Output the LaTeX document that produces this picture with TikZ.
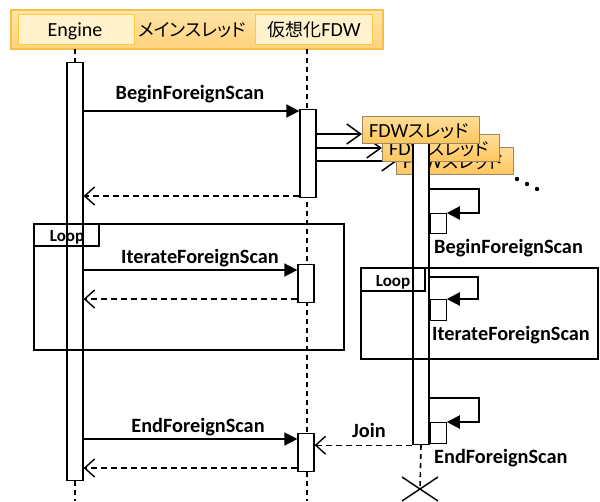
\documentclass[tikz,border=0pt]{standalone}
\usepackage{fontspec}
\setmainfont{Carlito}
\newfontfamily\jp[RawFeature=+palt]{Noto Sans CJK JP}
\usetikzlibrary{arrows.meta,calc}

\definecolor{bandtop}{HTML}{FFE4A6}
\definecolor{bandbot}{HTML}{FFD27E}
\definecolor{bandline}{HTML}{F4C048}
\definecolor{actfill}{HTML}{FFF2CC}
\definecolor{actline}{HTML}{FFC93A}
\definecolor{thrtop}{HTML}{FFDE98}
\definecolor{thrbot}{HTML}{FFC65E}
\definecolor{thrline}{HTML}{9A8660}

\tikzset{
  bar/.style={draw, fill=white, line width=1.2pt, minimum width=16pt,
    inner sep=0pt, anchor=north},
  nest/.style={draw, fill=white, line width=1.2pt, minimum width=16pt,
    inner sep=0pt, anchor=north west},
  lifeline/.style={line width=1.6pt, dash pattern=on 5pt off 4pt},
  call/.style={line width=1.5pt, -{Triangle[length=13pt,width=13pt]}},
  selfcall/.style={line width=2.2pt, -{Triangle[length=13pt,width=13pt]}},
  reply/.style={line width=1.4pt, dash pattern=on 6pt off 4pt,
    -{Straight Barb[length=10pt,width=18pt,line width=1.4pt]}},
  spawn/.style={line width=1.5pt,
    -{Straight Barb[length=14pt,width=20pt,line width=1.5pt]}},
  msg/.style={font=\fontsize{20.3}{22}\selectfont\bfseries, inner sep=0pt, anchor=base},
  msgw/.style={msg, anchor=base west},
  looplbl/.style={font=\fontsize{17}{18}\selectfont\bfseries, inner sep=0pt, anchor=base},
  hdr/.style={font=\fontsize{20}{22}\selectfont, inner sep=0pt, anchor=base},
  frame/.style={draw, line width=1.2pt},
  thread/.style={draw=thrline, line width=1.1pt, top color=thrtop, bottom color=thrbot,
    minimum width=117pt, minimum height=27pt, inner sep=0pt, anchor=north west},
}

\begin{document}
\begin{tikzpicture}[x=1pt, y=-1pt]
\useasboundingbox (0,0) rectangle (600,501);

% header band with the two participants
\shade[top color=bandtop, bottom color=bandbot, draw=bandline, line width=1.2pt]
  (11,10) rectangle (383,49);
\node (engine) [draw=actline, fill=actfill, line width=1.2pt, minimum width=116pt,
  minimum height=30pt, inner sep=0pt, anchor=north west] at (18,14) {};
\node (fdw) [draw=actline, fill=actfill, line width=1.2pt, minimum width=117pt,
  minimum height=30pt, inner sep=0pt, anchor=north west] at (255,14) {};
\node[hdr] at (75,36) {Engine};
\node[hdr, font=\fontsize{18}{22}\selectfont\jp] at (192,36) {メインスレッド};
\node[hdr] at (314,36) {{\jp\fontsize{18}{22}\selectfont 仮想化}FDW};

% lifelines
\coordinate (engtop) at (75,49);
\coordinate (engend) at (75,501);
\coordinate (fdwtop) at (307,49);
\coordinate (fdwend) at (307,501);
\draw[lifeline] (engtop) -- (engend);
\draw[lifeline] (fdwtop) -- (fdwend);

% activation bars of the main thread side
\node (engbar) [bar, minimum height=418pt] at (75,62) {};
\node (fb1) [bar, minimum height=88pt] at (308,109) {};
\node (fb2) [bar, minimum height=38pt] at (306,264) {};
\node (fb3) [bar, minimum height=38pt] at (306,433) {};

% BeginForeignScan
\draw[call] (engbar.east |- 0,111) -- (fb1.west |- 0,111);
\node[msg] at (190,99) {BeginForeignScan};
\draw[reply] (fb1.west |- 0,196) -- (engbar.east |- 0,196);

% spawning the worker threads
\coordinate (t1w) at (362,134);
\coordinate (t2w) at (382,148);
\coordinate (t3w) at (397,161);
\draw[spawn] (fb1.east |- t1w) -- (t1w);
\draw[spawn] (fb1.east |- t2w) -- (t2w);
\draw[spawn] (fb1.east |- t3w) -- (t3w);
\node (t3) [thread] at (396,147) {};
\node[hdr] at ($(t3.north)+(-2,21)$) {FDW{\jp\fontsize{18}{22}\selectfont スレッド}};
\node (t2) [thread] at (382,134) {};
\node[hdr] at ($(t2.north)+(-2,21)$) {FDW{\jp\fontsize{18}{22}\selectfont スレッド}};

% worker thread activation bar
\node (thbar) [bar, minimum height=304pt] at (421,140) {};

\node (t1) [thread] at (362,116) {};
\node[hdr] at ($(t1.north)+(-2,21)$) {FDW{\jp\fontsize{18}{22}\selectfont スレッド}};
\fill (517,179) circle (2.2pt) (527,184) circle (2.2pt) (537,189) circle (2.2pt);

% nested self-call bars on the worker thread
\node (n1) [nest, minimum height=20pt] at (thbar.east |- 0,213) {};
\node (n2) [nest, minimum height=21pt] at (thbar.east |- 0,299) {};
\node (n3) [nest, minimum height=21pt] at (thbar.east |- 0,422) {};

% worker thread lifeline and its end
\coordinate (xc) at (420,489);
\draw[lifeline] (thbar.south) -- (xc);
\draw[line width=1.5pt] ($(xc)+(-18,-12)$) -- ($(xc)+(18,12)$)
  ($(xc)+(18,-12)$) -- ($(xc)+(-18,12)$);

% worker self calls
\draw[selfcall] (thbar.east |- 0,189) -- (479,189) |- (n1.north east);
\node[msgw] at (434,253) {BeginForeignScan};
\draw[selfcall] (thbar.east |- 0,277) -- (478,277) |- (n2.north east);
\node[msgw] at (432,340) {IterateForeignScan};
\draw[selfcall] (thbar.east |- 0,398) -- (479,398) |- (n3.north east);
\node[msgw] at (434,463) {EndForeignScan};

% loop on the main thread
\draw[frame] (34,224) rectangle (344,350);
\draw[frame] (34,224) rectangle (99,246);
\node[looplbl] at (67,241) {Loop};
\draw[call] (engbar.east |- 0,270) -- (fb2.west |- 0,270);
\node[msg] at (200,263) {IterateForeignScan};
\draw[reply] (fb2.west |- 0,299) -- (engbar.east |- 0,299);

% loop on the worker thread
\draw[frame] (361,268) rectangle (598,359);
\draw[frame] (361,268) rectangle (425,291);
\node[looplbl] at (393,286) {Loop};

% EndForeignScan and join
\draw[call] (engbar.east |- 0,439) -- (fb3.west |- 0,439);
\node[msg] at (198,432) {EndForeignScan};
\draw[reply] (fb3.west |- 0,468) -- (engbar.east |- 0,468);
\draw[reply] (thbar.south west) -- (fb3.east |- thbar.south west);
\node[msg] at (369,437) {Join};
\end{tikzpicture}
\end{document}
